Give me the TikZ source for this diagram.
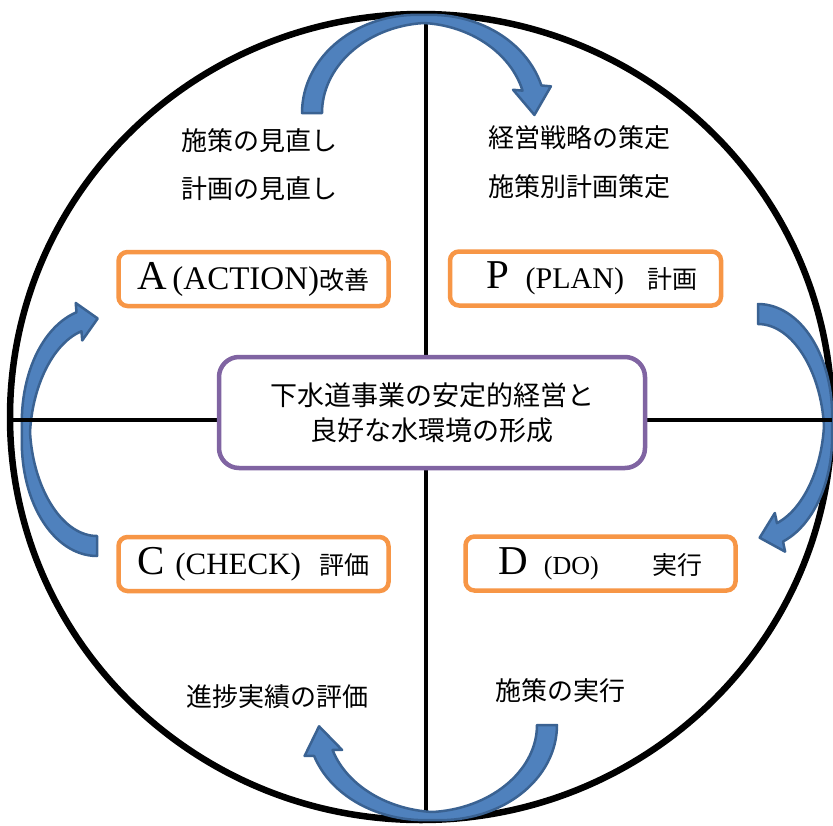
\documentclass[tikz,border=0pt]{standalone}
\usepackage{fontspec}
\newfontfamily\jpfont{Noto Sans CJK JP}
\newfontfamily\pdcaserif{Liberation Serif}

\definecolor{pdcaorange}{HTML}{F79646}
\definecolor{hubpurple}{HTML}{8064A2}
\definecolor{arrowfill}{HTML}{4F81BD}
\definecolor{arrowedge}{HTML}{3A6292}

% shaft thickness (thin middle, thick ends) and head tilt of the curved arrows
\newcommand{\arrWmin}{8}
\newcommand{\arrWmax}{20}
\newcommand{\arrTilt}{13}

% curved block arrow along an ellipse (pixel-down coordinates)
% #1,#2 centre  #3,#4 radii  #5 start angle  #6 end angle
% #7 angle of thickest shaft  #8 head length  #9 head half width
\newcommand{\curvedblock}[9]{%
  \pgfmathsetmacro\aCx{#1}%
  \pgfmathsetmacro\aCy{#2}%
  \pgfmathsetmacro\aRx{#3}%
  \pgfmathsetmacro\aRy{#4}%
  \pgfmathsetmacro\aTs{#5}%
  \pgfmathsetmacro\aTe{#6}%
  \pgfmathsetmacro\aPhi{#7}%
  \pgfmathsetmacro\aHl{#8}%
  \pgfmathsetmacro\aHw{#9}%
  \pgfmathsetmacro\aMx{\aCx+\aRx*cos(\aTe)}%
  \pgfmathsetmacro\aMy{\aCy+\aRy*sin(\aTe)}%
  \pgfmathsetmacro\aAng{atan2(\aRy*cos(\aTe),-\aRx*sin(\aTe))+\arrTilt}%
  \pgfmathsetmacro\aOx{\aMx+\aHw*sin(\aAng)}%
  \pgfmathsetmacro\aOy{\aMy-\aHw*cos(\aAng)}%
  \pgfmathsetmacro\aIx{\aMx-\aHw*sin(\aAng)}%
  \pgfmathsetmacro\aIy{\aMy+\aHw*cos(\aAng)}%
  \pgfmathsetmacro\aTx{\aMx+\aHl*cos(\aAng)}%
  \pgfmathsetmacro\aTy{\aMy+\aHl*sin(\aAng)}%
  \filldraw[cyclearrow]
    plot[domain=\aTs:\aTe, samples=60, variable=\t]
      ({\aCx+(\aRx+0.5*(\arrWmin+(\arrWmax-\arrWmin)*abs(cos(\t-\aPhi))))*cos(\t)},
       {\aCy+(\aRy+0.5*(\arrWmin+(\arrWmax-\arrWmin)*abs(cos(\t-\aPhi))))*sin(\t)})
    -- (\aOx,\aOy) -- (\aTx,\aTy) -- (\aIx,\aIy)
    -- plot[domain=\aTe:\aTs, samples=60, variable=\t]
      ({\aCx+(\aRx-0.5*(\arrWmin+(\arrWmax-\arrWmin)*abs(cos(\t-\aPhi))))*cos(\t)},
       {\aCy+(\aRy-0.5*(\arrWmin+(\arrWmax-\arrWmin)*abs(cos(\t-\aPhi))))*sin(\t)})
    -- cycle;%
}

% pieces of the PDCA labels
\newcommand{\pdcaKey}[1]{{\pdcaserif\fontsize{41}{41}\selectfont #1}}
\newcommand{\pdcaWord}[2]{{\pdcaserif\fontsize{#1}{#1}\selectfont (#2)}}
\newcommand{\pdcaJa}[1]{{\jpfont\fontsize{25}{25}\selectfont #1}}

\begin{document}
\begin{tikzpicture}[x=1pt, y=-1pt,
  ring/.style={draw=black, line width=6.5},
  quadline/.style={draw=black, line width=4.5},
  cyclearrow/.style={fill=arrowfill, draw=arrowedge, line width=2.5, line join=round},
  pdcabox/.style={draw=pdcaorange, line width=4.5, rounded corners=9, fill=white,
    minimum width=270, minimum height=54, inner sep=0},
  hubbox/.style={draw=hubpurple, line width=4.5, rounded corners=20, fill=white,
    minimum width=426, minimum height=111, inner sep=0, align=center,
    font=\jpfont\fontsize{27}{35}\selectfont},
  note/.style={anchor=west, inner sep=0, font=\jpfont\fontsize{26}{26}\selectfont}
]
\useasboundingbox (0,0) rectangle (833,825);
\fill[white] (0,0) rectangle (833,825);

% outer ring and the quadrant lines
\draw[ring] (421,417) ellipse[x radius=411, y radius=403];
\coordinate (qN) at (426,14);
\coordinate (qS) at (426,820);
\coordinate (qW) at (10,420);
\coordinate (qE) at (832,420);
\draw[quadline] (qN) -- (qS);

% clockwise cycle arrows: top, right, bottom, left
\curvedblock{424}{113}{112}{94}{180}{344.6}{0}{27}{19}
\curvedblock{758}{426}{70}{112}{270}{431.7}{90}{21}{20}
\curvedblock{432.4}{725}{114.6}{91}{0}{162.1}{0}{27}{19}
\curvedblock{97}{432}{71}{114}{90}{255.3}{90}{19}{19}

\draw[quadline] (qW) -- (qE);

% PDCA boxes
\node[pdcabox] (act) at (253.5,279)
  {\pdcaKey{A}\hspace{5pt}\pdcaWord{33}{ACTION}\pdcaJa{改善}\hspace{12pt}};
\node[pdcabox, minimum width=271] (plan) at (585.5,278.5)
  {\hspace{13pt}\pdcaKey{P}\hspace{16pt}\pdcaWord{30}{PLAN}\hspace{23pt}\pdcaJa{計画}};
\node[pdcabox] (check) at (253.5,564)
  {\pdcaKey{C}\hspace{10pt}\pdcaWord{31}{CHECK}\hspace{18pt}\pdcaJa{評価}\hspace{6pt}};
\node[pdcabox] (do) at (600.5,563.5)
  {\pdcaKey{D}\hspace{16pt}\pdcaWord{26}{DO}\hspace{54pt}\pdcaJa{実行}\hspace{16pt}};

% central goal
\node[hubbox] (hub) at (432,412.5) {下水道事業の安定的経営と\\良好な水環境の形成};

% notes in each quadrant
\node[note] (revA) at (181,141) {施策の見直し};
\node[note] (revB) at (181,189) {計画の見直し};
\node[note] (planA) at (488,138) {経営戦略の策定};
\node[note] (planB) at (488,187) {施策別計画策定};
\node[note] (eval) at (186,697) {進捗実績の評価};
\node[note] (exec) at (495,691) {施策の実行};
\end{tikzpicture}
\end{document}
